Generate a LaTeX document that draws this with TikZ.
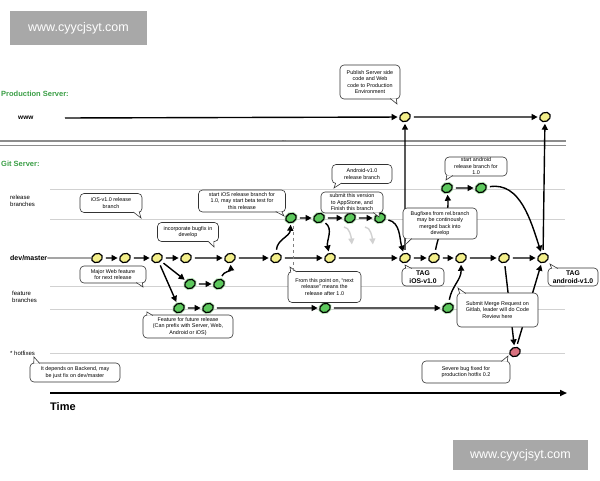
\documentclass[tikz,border=0pt]{standalone}
\usepackage{fontspec}
\setmainfont{Liberation Sans}
\usetikzlibrary{arrows.meta, shapes.geometric, calc, backgrounds}
\definecolor{DevYellow}{HTML}{F3EF8A}
\definecolor{RelGreen}{HTML}{5CC95C}
\definecolor{HotRed}{HTML}{D9717F}
\definecolor{SectionGreen}{HTML}{3A9E45}
\definecolor{MarkGray}{HTML}{A8A8A8}
\newcommand{\notesize}{\fontsize{5.4}{6.5}\selectfont}
\newcommand{\tagsize}{\fontsize{6.8}{8}\selectfont\bfseries}

\begin{document}
\begin{tikzpicture}[x=1pt, y=-1pt,
    commit/.style={ellipse, draw=black, line width=1.2pt, minimum width=11pt, minimum height=9pt, inner sep=0pt, rotate=25},
    dev/.style={commit, fill=DevYellow},
    rel/.style={commit, fill=RelGreen, preaction={draw=RelGreen!40, line width=3pt}},
    hot/.style={commit, fill=HotRed},
    flow/.style={-{Triangle[length=6pt,width=6pt]}, line width=1.4pt, shorten >=1.5pt, shorten <=3pt},
    ghost/.style={flow, draw=black!18, -{Triangle[length=6pt,width=6pt,fill=black!18]}},
    lane/.style={draw=black!18, line width=0.7pt},
    note/.style={draw=black!80, fill=white, rounded corners=4pt, align=center, font=\notesize, inner sep=1pt, line width=0.6pt},
    tagnote/.style={note, font=\tagsize},
    notetail/.style={draw=black!80, fill=white, line width=0.6pt},
    section/.style={font=\bfseries\fontsize{7.5}{9}\selectfont, text=SectionGreen, anchor=west, inner sep=0pt},
    lanename/.style={font=\fontsize{6}{7}\selectfont, anchor=west, align=left, inner sep=0pt},
    watermark/.style={fill=MarkGray, text=white, font=\fontsize{12.5}{14}\selectfont}
]
\useasboundingbox (0,0) rectangle (600,480);

% watermarks
\node[watermark, minimum width=137pt, minimum height=34pt] (marktop) at (78.5,28) {www.cyycjsyt.com};
\node[watermark, minimum width=135pt, minimum height=30pt] (markbot) at (520.5,455) {www.cyycjsyt.com};

% production server
\node[section] (prod) at (1,94) {Production Server:};
\node[lanename, font=\bfseries\fontsize{6.5}{8}\selectfont] (wwwname) at (18,118) {www};
\coordinate (wwwstart) at (62,118);
\draw[draw=black!45, line width=1.4pt] (0,141) -- (566,141);
\draw[draw=black!45, line width=0.8pt] (0,145) -- (566,145);
\node[font=\fontsize{4}{4}\selectfont, inner sep=0pt] (dots) at (284,141.5) {...};

% git server
\node[section] (git) at (1,164) {Git Server:};
\node[lanename] (relname) at (10,201) {release\\branches};
\node[lanename, font=\bfseries\fontsize{7}{8}\selectfont] (devname) at (10,258) {dev/master};
\node[lanename] (featname) at (12,297) {feature\\branches};
\node[lanename] (hotname) at (10,353) {* hotfixes};

% lanes
\foreach \y in {189,219,286,309,353}
    \draw[lane] (50,\y) -- (565,\y);

% commits
\node[dev] (w1) at (405,117) {};
\node[dev] (w2) at (545,117) {};
\foreach \name/\x in {d1/97, d2/125, d3/157, d4/186, d5/230, d6/276, d7/330, d8/405, d9/434, d10/461, d11/504, d12/543}
    \node[dev] (\name) at (\x,258) {};
\node[rel] (f1) at (190,284) {};
\node[rel] (f2) at (219,284) {};
\node[rel] (f3) at (179,308) {};
\node[rel] (f4) at (208,308) {};
\node[rel] (f5) at (325,308) {};
\node[rel] (f6) at (448,308) {};
\node[rel] (r1) at (291,218) {};
\node[rel] (r2) at (319,218) {};
\node[rel] (r3) at (350,218) {};
\node[rel] (r4) at (380,218) {};
\node[rel] (a1) at (447,188) {};
\node[rel] (a2) at (481,188) {};
\node[hot] (h1) at (515,352) {};

% www line
\draw[flow] (wwwstart) -- (w1);
\draw[flow] (w1) -- (w2);
\draw[flow] (d8) -- (w1);
\draw[flow] (d12) -- (w2);

% dev/master
\draw[line width=0.8pt] (devname.east) -- (d1);
\foreach \a/\b in {d1/d2, d2/d3, d3/d4, d4/d5, d5/d6, d6/d7, d7/d8, d8/d9, d9/d10, d10/d11, d11/d12}
    \draw[flow] (\a) -- (\b);

% feature branches
\draw[flow] (d3) -- (f1);
\draw[flow] (d3) -- (f3);
\draw[flow] (f1) -- (f2);
\draw[flow] (f2) to[out=60, in=-95] (d5);
\draw[flow] (f3) -- (f4);
\draw[flow] (f4) -- (f5);
\draw[flow] (f5) -- (f6);
\draw[flow] (f6) to[out=75, in=-95] (d10);

% release branches
\draw[flow] (d6) to[out=80, in=-100] (r1);
\draw[flow] (r1) -- (r2);
\draw[flow] (r2) -- (r3);
\draw[flow] (r3) -- (r4);
\draw[flow] (r2) to[out=-45, in=95] (d7);
\draw[flow] (r4) to[out=-20, in=100] (d8);
\coordinate (g1a) at (341,227);
\coordinate (g1b) at (352,246);
\coordinate (g2a) at (362,227);
\coordinate (g2b) at (373,246);
\draw[ghost] (g1a) to[out=0, in=95] (g1b);
\draw[ghost] (g2a) to[out=0, in=95] (g2b);
\draw[flow] (d9) to[out=75, in=-90] (a1);
\draw[flow] (a1) -- (a2);
\draw[flow] (a2) to[out=5, in=105] (d12);

% hotfix
\draw[flow] (d11) -- (h1);
\draw[flow] (h1) -- (d12);

% time axis
\draw[-{Triangle[length=7pt,width=6pt]}, line width=1.6pt] (50,393) -- (567,393);
\node[anchor=west, inner sep=0pt, font=\bfseries\fontsize{11}{13}\selectfont] (time) at (50,407) {Time};

% notes
\node[note, minimum width=60pt, minimum height=34pt] (pub) at (370,82) {Publish Server side\\code and Web\\code to Production\\Environment};
\draw[notetail] ($(pub.south east)+(-10,-0.8)$) -- (397,104) -- ($(pub.south east)+(-4,-0.8)$);

\node[note, minimum width=62pt, minimum height=19pt] (iosrel) at (111,203) {iOS-v1.0 release\\branch};
\draw[notetail] ($(iosrel.south east)+(-9,-0.8)$) -- (141,218) -- ($(iosrel.south east)+(-3,-0.8)$);

\node[note, minimum width=61pt, minimum height=19pt] (bugfix) at (188,232) {incorporate bugfix in\\develop};
\draw[notetail] ($(bugfix.south east)+(-11,-0.8)$) -- (214,247) -- ($(bugfix.south east)+(-5,-0.8)$);

\node[note, minimum width=66pt, minimum height=17pt] (major) at (113,274.5) {Major Web feature\\for next release};
\draw[notetail] ($(major.south east)+(-10,-0.8)$) -- (143,287) -- ($(major.south east)+(-4,-0.8)$);

\node[note, minimum width=87pt, minimum height=22pt] (startios) at (242,201) {start iOS release branch for\\1.0, may start beta test for\\this release};
\draw[notetail] ($(startios.south east)+(-10,-0.8)$) -- (284,216) -- ($(startios.south east)+(-4,-0.8)$);

\node[note, minimum width=60pt, minimum height=19pt] (andrel) at (362,174) {Android-v1.0\\release branch};
\draw[notetail] ($(andrel.south west)+(4,-0.8)$) -- (334,188) -- ($(andrel.south west)+(10,-0.8)$);

\node[note, minimum width=62pt, minimum height=21pt] (submit) at (352,202.5) {submit this version\\to AppStone, and\\Finish this branch};
\draw[notetail] ($(submit.south east)+(-10,-0.8)$) -- (379,217) -- ($(submit.south east)+(-4,-0.8)$);

\node[note, minimum width=73pt, minimum height=31pt] (nextrel) at (324.5,287) {From this point on, ``next\\release'' means the\\release after 1.0};
\draw[notetail] ($(nextrel.north west)+(3,0.8)$) -- (290,267) -- ($(nextrel.north west)+(9,0.8)$);
\coordinate (cut) at (293,226);
\draw[dashed, draw=black!50, line width=0.5pt] (cut) -- (cut |- nextrel.north);

\node[note, minimum width=62pt, minimum height=17pt] (startand) at (476,166.5) {start android\\release branch for\\1.0};
\draw[notetail] ($(startand.south west)+(2,-0.8)$) -- (446,180) -- ($(startand.south west)+(8,-0.8)$);

\node[note, minimum width=74pt, minimum height=31pt] (bugrel) at (440,223.5) {Bugfixes from rel.branch\\may be continously\\merged back into\\develop};
\draw[notetail] ($(bugrel.south west)+(3,-0.8)$) -- (405,245) -- ($(bugrel.south west)+(9,-0.8)$);

\node[tagnote, minimum width=42pt, minimum height=18pt] (tagios) at (423,277) {TAG\\iOS-v1.0};
\draw[notetail] ($(tagios.north west)+(4,0.8)$) -- (405,265) -- ($(tagios.north west)+(10,0.8)$);

\node[tagnote, minimum width=50pt, minimum height=18pt] (tagand) at (573,277) {TAG\\android-v1.0};
\draw[notetail] ($(tagand.north west)+(4,0.8)$) -- (550,264) -- ($(tagand.north west)+(10,0.8)$);

\node[note, minimum width=81pt, minimum height=34pt] (merge) at (497.5,310) {Submit Merge Request on\\Gitlab, leader will do Code\\Review here};
\draw[notetail] ($(merge.north west)+(3,0.8)$) -- (458,288) -- ($(merge.north west)+(9,0.8)$);

\node[note, minimum width=88pt, minimum height=22pt] (severe) at (466,372) {Severe bug fixed for\\production hotfix 0.2};
\draw[notetail] ($(severe.north east)+(-9,0.8)$) -- (508,356) -- ($(severe.north east)+(-3,0.8)$);

\node[note, minimum width=90pt, minimum height=23pt] (future) at (188,326.5) {Feature for future release\\(Can prefix with Server, Web,\\Android or iOS)};
\draw[notetail] ($(future.north west)+(4,0.8)$) -- (147,312) -- ($(future.north west)+(10,0.8)$);

\node[note, minimum width=90pt, minimum height=19pt] (backend) at (75,372.5) {It depends on Backend, may\\be just fix on dev/master};
\draw[notetail] ($(backend.north west)+(4,0.8)$) -- (34,357) -- ($(backend.north west)+(10,0.8)$);
\end{tikzpicture}
\end{document}
